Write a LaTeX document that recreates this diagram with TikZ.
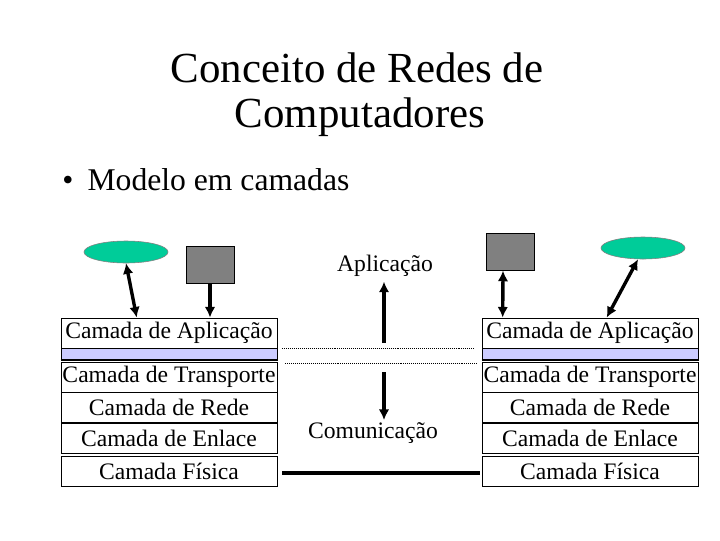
\documentclass[tikz,border=0pt]{standalone}
\usepackage{fontspec}
\setmainfont{Liberation Serif}
\usetikzlibrary{shapes.geometric,arrows.meta,calc}
\definecolor{verde}{HTML}{00CC99}
\definecolor{lilas}{HTML}{CCCCFF}
\definecolor{cinza}{HTML}{808080}
\begin{document}
\begin{tikzpicture}[x=0.025cm,y=-0.025cm,
  camada/.style={draw, fill=white, minimum width=5.4cm, minimum height=0.76cm, inner sep=0pt, font=\fontsize{16.8}{20}\selectfont},
  faixa/.style={draw, fill=lilas, minimum width=5.4cm, minimum height=0.3cm, inner sep=0pt},
  seta/.style={line width=2.4pt, -{Latex[length=7.5pt,width=7.5pt]}},
  setadupla/.style={line width=2.4pt, {Latex[length=7.5pt,width=7.5pt]}-{Latex[length=7.5pt,width=7.5pt]}},
  host/.style={ellipse, draw=gray, fill=verde, minimum width=2.1cm, minimum height=0.55cm, inner sep=0pt},
  maquina/.style={draw, fill=cinza, minimum width=1.2cm, minimum height=0.92cm, inner sep=0pt},
  rotulo/.style={font=\fontsize{16.8}{20}\selectfont}]
\useasboundingbox[fill=white] (0,0) rectangle (720,540);
\node[font=\fontsize{30.5}{32}\selectfont, anchor=base] (tit1) at (357,82) {Conceito de Redes de};
\node[font=\fontsize{30.5}{32}\selectfont, anchor=base] (tit2) at (360,127) {Computadores};
\node[font=\fontsize{22.5}{26}\selectfont, anchor=base west, inner sep=0pt] (item) at (62,190) {\makebox[18pt][l]{•}Modelo em camadas};
% pilha da esquerda
\node[camada] (aplL) at (169,333) {Camada de Aplicação};
\node[faixa] (faixaL) at (169,354) {};
\node[camada] (trpL) at (169,377) {Camada de Transporte};
\node[camada] (redeL) at (169,407.5) {Camada de Rede};
\node[camada] (enlL) at (169,438.5) {Camada de Enlace};
\node[camada] (fisL) at (169,471.5) {Camada Física};
\draw[line width=1.5pt] (faixaL.south west) -- (faixaL.south east);
% pilha da direita
\node[camada] (aplR) at (590,333) {Camada de Aplicação};
\node[faixa] (faixaR) at (590,354) {};
\node[camada] (trpR) at (590,377) {Camada de Transporte};
\node[camada] (redeR) at (590,407.5) {Camada de Rede};
\node[camada] (enlR) at (590,438.5) {Camada de Enlace};
\node[camada] (fisR) at (590,471.5) {Camada Física};
\draw[line width=1.5pt] (faixaR.south west) -- (faixaR.south east);
% hosts
\node[host] (ellL) at (126,252) {};
\node[maquina] (sqL) at (210,264.5) {};
\node[maquina] (sqR) at (510,252) {};
\node[host] (ellR) at (643,248) {};
\draw[setadupla] (ellL.south) -- ($(aplL.north west)+(76,0)$);
\draw[seta] (sqL.south) -- (sqL.south |- aplL.north);
\draw[setadupla] ($(sqR.south)+(-7,0)$) -- ($(aplR.north west)+(21,0)$);
\draw[setadupla] ($(ellR.south)+(-5,0)$) -- ($(aplR.north west)+(125,0)$);
% meio
\node[rotulo] (txtApl) at (385,266) {Aplicação};
\node[rotulo] (txtCom) at (373,433) {Comunicação};
\coordinate (meio1) at (384,343);
\coordinate (meio2) at (384,372);
\coordinate (meio3) at (384,420);
\draw[seta] (meio1) -- (meio1 |- txtApl.south);
\draw[seta] (meio2) -- (meio3);
\draw[densely dotted] ($(aplL.south east)+(5,0)$) -- ($(aplR.south west)+(-7,0)$);
\draw[densely dotted] ($(trpL.north east)+(8,2)$) -- ($(trpR.north west)+(-4,2)$);
\draw[line width=2.8pt] ($(fisL.east)+(5,1.5)$) -- ($(fisR.west)+(-2,1.5)$);
\end{tikzpicture}
\end{document}
